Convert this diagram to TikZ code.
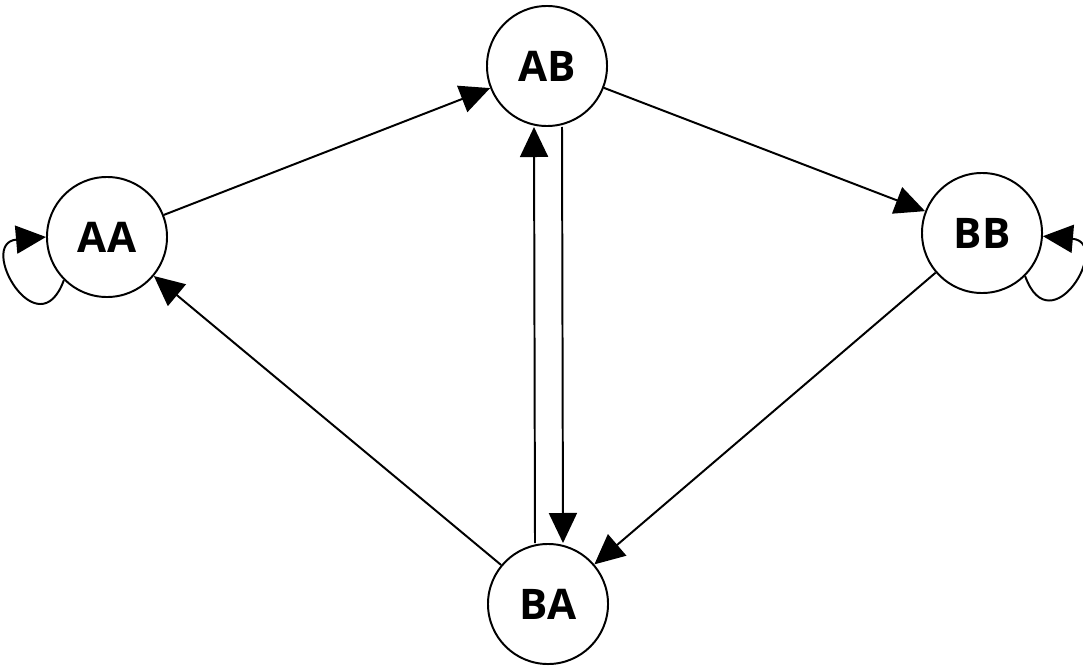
\documentclass[tikz,border=0pt]{standalone}
\usepackage{fontspec}
\setmainfont{Open Sans}
\usetikzlibrary{arrows.meta}
\tikzset{state/.style={draw,circle,line width=1.4pt,minimum size=3cm,inner sep=0pt,
        font=\fontsize{30}{36}\selectfont\bfseries},
    trans/.style={line width=1.4pt,-{Triangle[length=0.75cm,width=0.7cm]}}}

\begin{document}
\begin{tikzpicture}[x=0.025cm,y=0.025cm]
		\useasboundingbox (0,0) rectangle (1083,667);
		\node[state] (aa) at (107,430) {AA};
		\node[state] (ab) at (547,601) {AB};
		\node[state] (bb) at (982,434) {BB};
		\node[state] (ba) at (548,63) {BA};
		\draw[trans] (aa) -- (ab);
		\draw[trans] (ab) -- (bb);
		\draw[trans] (bb) -- (ba);
		\draw[trans] (ba) -- (aa);
		\draw[trans] ([xshift=-13*0.025cm]ba.north) -- ([xshift=-13*0.025cm]ab.south);
		\draw[trans] ([xshift=15*0.025cm]ab.south) -- ([xshift=15*0.025cm]ba.north);
		% self loops
		\draw[trans] (aa.225) .. controls +(250:75) and +(185:70) .. (aa.180);
		\draw[trans] (bb.315) .. controls +(-70:75) and +(-5:70) .. (bb.-3);
\end{tikzpicture}
\end{document}
